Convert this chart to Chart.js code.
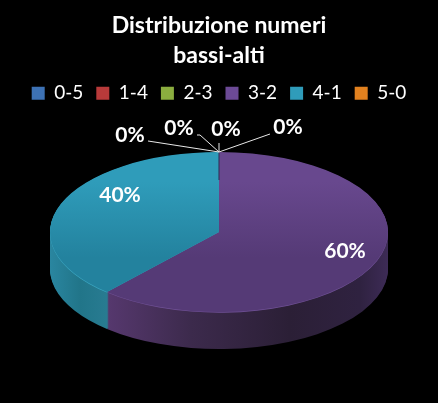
<!DOCTYPE html>
<html>
<head>
<meta charset="utf-8">
<style>
  html, body { margin: 0; padding: 0; background: #000; }
  canvas { display: block; }
</style>
<script src="https://cdn.jsdelivr.net/npm/chart.js@4"></script>
</head>
<body>
<canvas id="pieChart" width="438" height="403"></canvas>
<script>
const categories = ['0-5', '1-4', '2-3', '3-2', '4-1', '5-0'];
const shares = [0, 0, 0, 60, 40, 0];
const titleLines = ['Distribuzione numeri', 'bassi-alti'];
const legendColors = ['#3d72b5', '#b83a3a', '#8bad3f', '#6c4a96', '#2f9cba', '#e2811f'];

const ctx = document.getElementById('pieChart');
const g = ctx.getContext('2d');

// pie look: ellipse on screen, thick rim below it
const CX = 219, CY = 232, RX = 169, RY = 80, DEPTH = 37;

function grad(x0, y0, x1, y1, stops) {
  const l = g.createLinearGradient(x0, y0, x1, y1);
  stops.forEach(s => l.addColorStop(s[0], s[1]));
  return l;
}
const topFill = {
  3: grad(0, CY - RY, 0, CY + RY, [[0, '#68488e'], [1, '#553a76']]),
  4: grad(0, CY - RY, 0, CY + RY, [[0, '#2f9cba'], [1, '#23829e']])
};
const sideFill = {
  3: grad(107, 0, 388, 0, [[0, '#56386e'], [0.3, '#3c2a4c'], [0.65, '#2b1f36'], [0.9, '#2f2240'], [1, '#3d2b56']]),
  4: grad(50, 0, 110, 0, [[0, '#2a86a0'], [0.5, '#217589'], [1, '#297c92']])
};
const rimFill = { 3: '#6f5095', 4: '#3aa6c2' };

function drawArc(el, fill, dy) {
  const saved = el.options;
  const opts = Object.create(saved);
  opts.backgroundColor = fill;
  el.options = opts;
  g.save();
  g.translate(CX, CY + dy);
  g.scale(1, RY / RX);
  g.translate(-el.x, -el.y);
  el.draw(g);
  g.restore();
  el.options = saved;
}

// the picture's perspective makes the near half look bigger,
// so the 3-2 / 4-1 seam lands a little further round than 216 deg
function bend(angle) {
  const s = Math.sin(angle + Math.PI / 2);
  return s < -0.01 ? angle - 0.096 * s / 0.588 : angle;
}

const pie3d = {
  id: 'pie3d',
  beforeDatasetsDraw(chart) {
    const arcs = chart.getDatasetMeta(0).data;
    arcs.forEach((el, i) => {
      if (!topFill[i] || el.bent) return;
      el.startAngle = bend(el.startAngle);
      el.endAngle = bend(el.endAngle);
      el.bent = true;
    });
    for (let d = DEPTH; d >= 1; d--) {
      arcs.forEach((el, i) => { if (sideFill[i]) drawArc(el, sideFill[i], d); });
    }
    arcs.forEach((el, i) => { if (rimFill[i]) drawArc(el, rimFill[i], 0.7); });
    arcs.forEach((el, i) => { if (topFill[i]) drawArc(el, topFill[i], 0); });
    // thin seam at the top of the pie
    g.strokeStyle = '#2f2a50';
    g.lineWidth = 1;
    g.beginPath();
    g.moveTo(CX, CY - RY);
    g.lineTo(CX, CY - RY + 28);
    g.stroke();
    return false;
  },
  afterDraw() {
    const total = shares.reduce((a, b) => a + b, 0);
    const pct = i => Math.round(shares[i] / total * 100) + '%';
    g.save();
    g.font = 'bold 21px Lato';
    g.textAlign = 'center';
    g.textBaseline = 'middle';
    g.strokeStyle = '#e8e8e8';
    g.lineWidth = 1;
    g.fillStyle = '#fff';
    // [text x, text y, leader path]
    const spots = {
      0: [288, 127, [[270, 134], [CX, CY - RY]]],
      1: [226, 129, [[CX, 143], [CX, CY - RY]]],
      2: [179, 128, [[197, 135], [200, 135], [CX, CY - RY]]],
      5: [130, 135, [[148, 141], [CX, CY - RY]]],
      3: [345, 251],
      4: [120, 195]
    };
    Object.keys(spots).forEach(k => {
      const s = spots[k];
      if (s[2]) {
        g.beginPath();
        s[2].forEach((p, n) => n ? g.lineTo(p[0], p[1]) : g.moveTo(p[0], p[1]));
        g.stroke();
      }
      g.fillText(pct(k), s[0], s[1]);
    });
    g.restore();
  }
};

new Chart(ctx, {
  type: 'pie',
  data: {
    labels: categories,
    datasets: [{
      data: shares,
      backgroundColor: legendColors,
      borderWidth: 0,
      radius: RX
    }]
  },
  options: {
    responsive: false,
    animation: false,
    plugins: {
      title: {
        display: true,
        text: titleLines,
        color: '#fff',
        font: { family: 'Lato', size: 23, weight: 'bold', lineHeight: 1.32 },
        padding: { top: 10, bottom: 0 }
      },
      legend: {
        display: true,
        position: 'top',
        labels: {
          color: '#fff',
          font: { family: 'Lato', size: 19 },
          boxWidth: 13,
          boxHeight: 13,
          padding: 13
        }
      },
      tooltip: { enabled: false }
    }
  },
  plugins: [pie3d]
});
</script>
</body>
</html>
